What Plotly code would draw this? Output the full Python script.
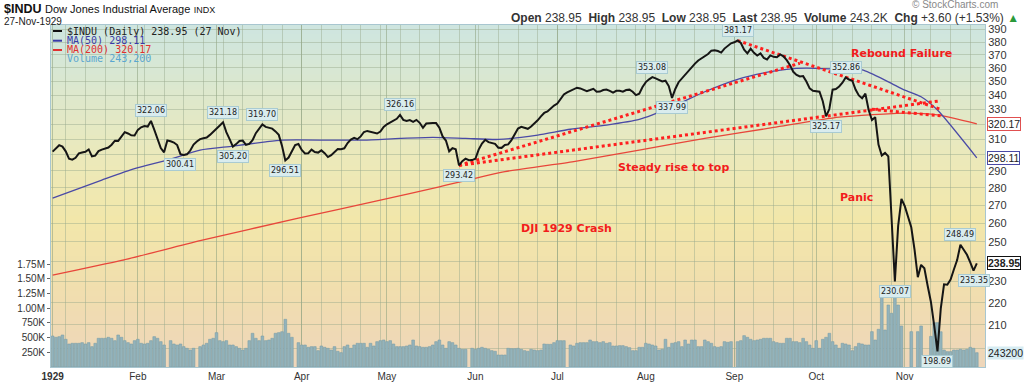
import math
import plotly.graph_objects as go

# ---------------- data ----------------
close = [
302.0, 304.1, 306.1, 305.2, 302.2, 297.6, 297.0, 298.1, 300.9, 301.4,
301.9, 303.4, 299.0, 299.5, 302.3, 303.3, 303.8, 304.6, 306.4, 309.0,
308.9, 312.0, 314.6, 313.7, 312.5, 312.4, 316.1, 317.8, 318.6, 318.3,
322.06, 316.2, 310.3, 304.3, 301.6, 309.1, 308.6, 307.8, 306.2, 300.41,
299.9, 300.3, 302.7, 306.5, 308.5, 310.0, 310.6, 311.1, 312.8, 314.7,
316.6, 319.0, 321.18, 314.6, 310.0, 305.20, 306.8, 308.8, 309.1, 306.3,
306.9, 309.3, 313.9, 316.9, 319.70, 318.1, 317.4, 316.9, 315.1, 312.8,
305.6, 296.51, 298.3, 302.1, 306.2, 306.9, 303.1, 300.9, 301.0, 303.3,
301.7, 301.4, 302.8, 301.0, 298.6, 299.8, 301.6, 303.7, 303.5, 304.1,
307.5, 309.8, 310.8, 310.0, 311.8, 314.7, 315.4, 315.0, 314.4, 313.7,
315.0, 318.1, 319.8, 321.0, 321.8, 323.5, 326.16, 322.8, 322.0, 322.7,
321.5, 322.8, 320.8, 317.5, 320.3, 320.6, 320.6, 320.6, 317.6, 311.8,
309.1, 302.2, 304.2, 303.5, 293.42, 296.0, 297.6, 296.6, 296.7, 297.5,
303.3, 307.2, 309.6, 308.1, 307.5, 307.0, 304.5, 304.4, 306.2, 306.6,
309.4, 313.7, 317.0, 318.1, 317.5, 316.8, 318.3, 320.1, 322.5, 325.2,
327.5, 328.5, 330.7, 332.6, 334.0, 337.3, 340.5, 342.0, 343.3, 344.4,
345.3, 344.8, 343.9, 342.8, 343.6, 344.5, 342.4, 342.5, 343.6, 344.0,
343.0, 341.8, 343.1, 343.1, 342.4, 343.6, 343.9, 342.4, 340.0, 341.0,
345.8, 349.4, 351.4, 353.08, 352.1, 350.9, 349.9, 350.4, 346.5, 337.99,
344.4, 349.3, 352.1, 355.1, 357.6, 360.3, 363.2, 365.6, 367.2, 368.4,
370.6, 373.2, 373.5, 372.9, 371.7, 374.8, 377.2, 379.0, 379.8, 381.17,
379.2, 374.0, 371.1, 374.8, 371.5, 369.4, 371.0, 367.6, 366.4, 369.5,
368.4, 368.1, 370.2, 368.8, 365.8, 362.0, 357.0, 354.7, 353.5, 353.8,
349.8, 344.8, 343.1, 343.0, 342.4, 335.6, 325.17, 330.2, 343.9, 344.4,
346.2, 348.9, 352.86, 351.3, 350.4, 344.0, 339.8, 337.7, 341.0, 329.5,
322.7, 324.6, 306.5, 299.5, 301.2, 299.0, 260.6, 230.07, 258.5, 273.5,
269.5, 264.0, 257.7, 245.9, 232.1, 238.2, 236.5, 228.0, 220.4, 209.7,
198.69, 217.3, 228.7, 228.5, 231.0, 235.9, 240.6, 248.49, 245.8, 243.3,
239.4, 235.35, 238.95,
]

# volume in thousands of shares (None = no volume reported that day)
volume_k = [
527, 505, 516, 544, 471, 391, 403, 403, 403, 414,
391, 414, 346, 403, 488, 488, 488, 505, 488, 448,
544, 505, 448, 414, 391, 448, 471, 403, 391, 403,
448, 516, 488, 431, 374, None,
448, 391, 374, 391, 346, 318, 289, 318, None,
346, 374, 403, 471, 488, 584, 448, 431, 448, 374,
374, 346, 318, 289, 318, 448, 573, 488, 448, 527,
448, 459, 488, 573, 584, 600, 811, 573, 505, None,
414, 374, 374, 335, 346, 346, 278, 357, 335, 318,
289, 346, 267, 244, 346, 374, 318, 374, 403, 403,
403, 335, 403, 357, 431, 448, 459, 431, 448, 391,
346, 346, 346, 357, 374, 459, 357, 346, 335, 335,
346, 374, 431, 459, 374, 318, 431, 414, 374, 318,
301, 301, None,
318, 301,
318, 335, 318, 301, 278, 267, 204, 204, 204, 318,
312, 312, 318, 301, 278, 267, 301, 289, 278, 289,
391, 386, 386, 414, 448, 448, 448, None,
374, 357, 403, 414, 414, 414, 459, 431, 431, 414,
431, 403, 414, 357, 357, 363, 363, 346, 329, 278,
278, 335, 335, 403, 391, 374, 357, 289, 301, 471,
335, 403, 414, 431, 346, 459, 391, 459, 459, 346,
346, 459, 431, 403, 346, 335, 346, 431, 420, 431, None,
431, 448, 533, 505, 471, 448, 459, 471, 488, 488, 488, 431, 414,
403, 403, 488, 488, 431, 431, 414, 488, 431, 374,
318, 448, 318, 471, 505, 573, 431, 374, 318, 403,
391, 374, 277, 346, 403, 391, 374, 374, 601, 459,
641, 1224, 629, 1054, 913, 1196, 1054, 697,
None, None, 601, None, 601, 697, None, None, 520, 754, 754, 600,
289, 261, 261, 289, 289, 301, 289, 301, 335, 318,
243.2,
]

month_idx = [0, 26, 50, 76, 102, 129, 154, 181, 208, 233, 260]
month_lbl = ['<b>1929</b>', 'Feb', 'Mar', 'Apr', 'May', 'Jun', 'Jul', 'Aug', 'Sep', 'Oct', 'Nov']

ma50_idx = [0, 15, 25, 35, 45, 55, 65, 70, 85, 95, 106, 116, 126, 136, 148, 158,
            169, 179, 189, 199, 209, 219, 224, 230, 240, 247, 255, 260, 265, 270, 282]
ma50_val = [274.0, 284.5, 291.4, 296.7, 303.0, 305.5, 308.3, 309.4, 309.4, 309.4, 310.5,
            311.2, 310.5, 309.8, 312.7, 316.5, 319.3, 323.1, 331.7, 342.4, 351.4, 357.1,
            358.9, 359.7, 358.9, 358.4, 349.6, 343.6, 338.8, 329.5, 298.11]

ma200_idx = [0, 21, 45, 75, 100, 118, 138, 159, 179, 199, 220, 240, 260, 270, 282]
ma200_val = [233.1, 240.4, 250.6, 262.7, 272.8, 280.5, 289.6, 295.8, 303.0, 310.5,
             317.7, 324.6, 327.4, 326.2, 320.17]

price_ticks = list(range(200, 400, 10))
# labels hidden behind the value boxes on the right edge
price_tick_lbl = ['' if t in (200, 240, 300, 320) else str(t) for t in price_ticks]
vol_ticks = [250, 500, 750, 1000, 1250, 1500, 1750]
vol_tick_lbl = ['250K', '500K', '750K', '1.00M', '1.25M', '1.50M', '1.75M']

pivot_idx = [30, 39, 52, 55, 64, 71, 106, 124, 183, 189, 209, 242, 236, 257, 270, 277, 281]
pivot_val = [322.06, 300.41, 321.18, 305.20, 319.70, 296.51, 326.16, 293.42, 353.08,
             337.99, 381.17, 352.86, 325.17, 230.07, 198.69, 248.49, 235.35]
pivot_side = [1, -1, 1, -1, 1, -1, 1, -1, 1, -1, 1, 1, -1, -1, -1, 1, -1]

trend_idx = [[124, 228], [124, 271], [209, 271], [250, 271]]
trend_val = [[293.42, 363.5], [293.42, 336.0], [381.17, 330.0], [330.0, 325.5]]

last_close, last_ma50, last_ma200, last_vol = 238.95, 298.11, 320.17, 243200

# ---------------- geometry helpers (pixel -> paper) ----------------
PL, PR, PT, PB = 51, 985, 25, 367
W, H = 1024, 382


def pxx(x):
    return (x - PL) / (PR - PL)


def pxy(y):
    return (PB - y) / (PB - PT)


fig = go.Figure()

# volume bars (base axis, drawn underneath)
fig.add_trace(go.Bar(
    x=list(range(len(volume_k))), y=volume_k, yaxis='y',
    marker=dict(color='#93b3bb', line=dict(color='#7a9ea8', width=0.6)),
    width=0.82, hoverinfo='skip', showlegend=False))

# moving averages
fig.add_trace(go.Scatter(x=ma200_idx, y=ma200_val, yaxis='y2', mode='lines',
                         line=dict(color='#e8463a', width=1.3, shape='spline', smoothing=0.6),
                         showlegend=False))
fig.add_trace(go.Scatter(x=ma50_idx, y=ma50_val, yaxis='y2', mode='lines',
                         line=dict(color='#4a4aa6', width=1.3, shape='spline', smoothing=0.6),
                         showlegend=False))

# trend lines
for ti, tv in zip(trend_idx, trend_val):
    fig.add_trace(go.Scatter(x=ti, y=tv, yaxis='y2', mode='lines',
                             line=dict(color='#ff1f1f', width=3, dash='dot'),
                             showlegend=False, hoverinfo='skip'))

# price
fig.add_trace(go.Scatter(x=list(range(len(close))), y=close, yaxis='y2', mode='lines',
                         line=dict(color='#151515', width=2), showlegend=False))

shapes = []
# background gradient
stops = [(25, (205, 229, 224)), (90, (220, 232, 206)), (160, (236, 233, 186)),
         (220, (242, 231, 170)), (290, (241, 222, 174)), (367, (238, 214, 186))]
n = 68
for k in range(n):
    ya = PT + (PB - PT) * k / n
    yb = PT + (PB - PT) * (k + 1) / n
    ym = (ya + yb) / 2
    for (y0, c0), (y1, c1) in zip(stops[:-1], stops[1:]):
        if y0 <= ym <= y1:
            t = (ym - y0) / (y1 - y0)
            c = tuple(int(round(c0[j] + (c1[j] - c0[j]) * t)) for j in range(3))
            break
    shapes.append(dict(type='rect', xref='paper', yref='paper', x0=0, x1=1,
                       y0=pxy(yb) - 0.002, y1=pxy(ya) + 0.002, layer='below',
                       line=dict(width=0), fillcolor='rgb(%d,%d,%d)' % c))

# legend dashes
for yy, col in [(31, '#111111'), (40.7, '#3a3aa8'), (50, '#e03030')]:
    shapes.append(dict(type='line', xref='paper', yref='paper', x0=pxx(53), x1=pxx(62),
                       y0=pxy(yy), y1=pxy(yy), line=dict(color=col, width=2)))

ann = []
# header
ann.append(dict(xref='paper', yref='paper', x=pxx(2), y=pxy(9), xanchor='left', yanchor='middle',
                text='<b>$INDU</b> <span style="font-size:11px">Dow Jones Industrial Average</span> '
                     '<span style="font-size:9px">INDX</span>',
                showarrow=False, font=dict(family='Liberation Sans', size=12.5, color='#111')))
ann.append(dict(xref='paper', yref='paper', x=pxx(2), y=pxy(21.5), xanchor='left', yanchor='middle',
                text='27-Nov-1929', showarrow=False,
                font=dict(family='Liberation Sans', size=10, color='#222')))
ann.append(dict(xref='paper', yref='paper', x=pxx(1021), y=pxy(17.5), xanchor='right',
                yanchor='middle',
                text='<b>Open</b> 238.95  <b>High</b> 238.95  <b>Low</b> 238.95  <b>Last</b> 238.95  '
                     '<b>Volume</b> 243.2K  <b>Chg</b> +3.60 (+1.53%) <span style="color:#2a9a3a">▲</span>',
                showarrow=False, font=dict(family='Liberation Sans', size=12, color='#333')))
ann.append(dict(xref='paper', yref='paper', x=pxx(1000), y=pxy(5), xanchor='right',
                yanchor='middle', text='© StockCharts.com', showarrow=False,
                font=dict(family='Liberation Sans', size=10, color='#888')))
# in-plot legend
leg = [(31, '$INDU (Daily) 238.95 (27 Nov)', '#222222'),
       (40.7, 'MA(50) 298.11', '#3a3aa8'),
       (50, 'MA(200) 320.17', '#e03030'),
       (58.5, 'Volume 243,200', '#5aa6d0')]
for yy, tx, col in leg:
    ann.append(dict(xref='paper', yref='paper', x=pxx(65), y=pxy(yy), xanchor='left',
                    yanchor='middle', text=tx, showarrow=False,
                    font=dict(family='DejaVu Sans Mono', size=10, color=col)))

# pivot labels
for i, v, s in zip(pivot_idx, pivot_val, pivot_side):
    ann.append(dict(x=i, y=math.log10(v), xref='x', yref='y2', text='%.2f' % v,
                    showarrow=False, yshift=10 * s, xanchor='center', yanchor='middle',
                    bgcolor='#d9ecee', bordercolor='#a9cbd2', borderwidth=1, borderpad=1,
                    font=dict(family='DejaVu Sans', size=8, color='#222')))

# red commentary
for tx, xx, yy in [('Rebound Failure', 901, 53), ('Steady rise to top', 673, 167),
                   ('DJI 1929 Crash', 566, 228), ('Panic', 856, 198)]:
    ann.append(dict(xref='paper', yref='paper', x=pxx(xx), y=pxy(yy), text='<b>%s</b>' % tx,
                    showarrow=False, xanchor='center', yanchor='middle',
                    font=dict(family='DejaVu Sans', size=11, color='#f21c1c')))

# right-edge value boxes
for v, col, bold in [(last_ma200, '#e05050', False), (last_ma50, '#4a4aa6', False),
                     (last_close, '#111111', True)]:
    ann.append(dict(xref='paper', yref='y2', x=1, y=math.log10(v), xanchor='left', xshift=2,
                    yanchor='middle', text=('<b>%.2f</b>' if bold else '%.2f') % v,
                    showarrow=False, bgcolor='white', bordercolor=col, borderwidth=1, borderpad=0,
                    font=dict(family='Liberation Sans', size=10.5, color='#222')))
ann.append(dict(xref='paper', yref='y', x=1, y=last_vol / 1000, xanchor='left', xshift=2,
                yanchor='middle', text='%d' % last_vol, showarrow=False, bgcolor='#d6ecf2',
                borderpad=0, font=dict(family='Liberation Sans', size=10.5, color='#222')))

grid = 'rgba(150,168,140,0.45)'
fig.update_layout(
    width=W, height=H, autosize=False,
    margin=dict(l=PL, r=W - PR, t=PT, b=H - PB, autoexpand=False),
    paper_bgcolor='white', plot_bgcolor='rgba(0,0,0,0)',
    bargap=0.1,
    xaxis=dict(range=[-0.5, 284.5], tickmode='array', tickvals=month_idx, ticktext=month_lbl,
               automargin=False,
               showgrid=True, gridcolor='rgba(140,160,125,0.55)', gridwidth=1, zeroline=False,
               ticks='', tickfont=dict(family='Liberation Sans', size=10, color='#333'),
               showline=True, linecolor='#a8c6d0', mirror=True,
               minor=dict(tick0=4, dtick=6, showgrid=True, gridcolor=grid)),
    yaxis=dict(range=[0, 5816], side='left', tickmode='array', tickvals=vol_ticks,
               automargin=False,
               ticktext=vol_tick_lbl, showgrid=False, zeroline=False, ticks='outside', ticklen=3,
               tickcolor='#666', tickfont=dict(family='Liberation Sans', size=10, color='#333'),
               showline=True, linecolor='#a8c6d0'),
    yaxis2=dict(overlaying='y', side='right', type='log', automargin=False,
                range=[math.log10(192.3), math.log10(393.8)], tickmode='array',
                tickvals=price_ticks, ticktext=price_tick_lbl,
                showgrid=True, gridcolor=grid, zeroline=False, ticks='',
                tickfont=dict(family='Liberation Sans', size=11, color='#333'),
                showline=True, linecolor='#a8c6d0'),
    shapes=shapes, annotations=ann, showlegend=False,
)

fig.write_html('out.html', config={'displayModeBar': False},
               post_script="document.body.style.margin='0px';document.body.style.padding='0px';")
